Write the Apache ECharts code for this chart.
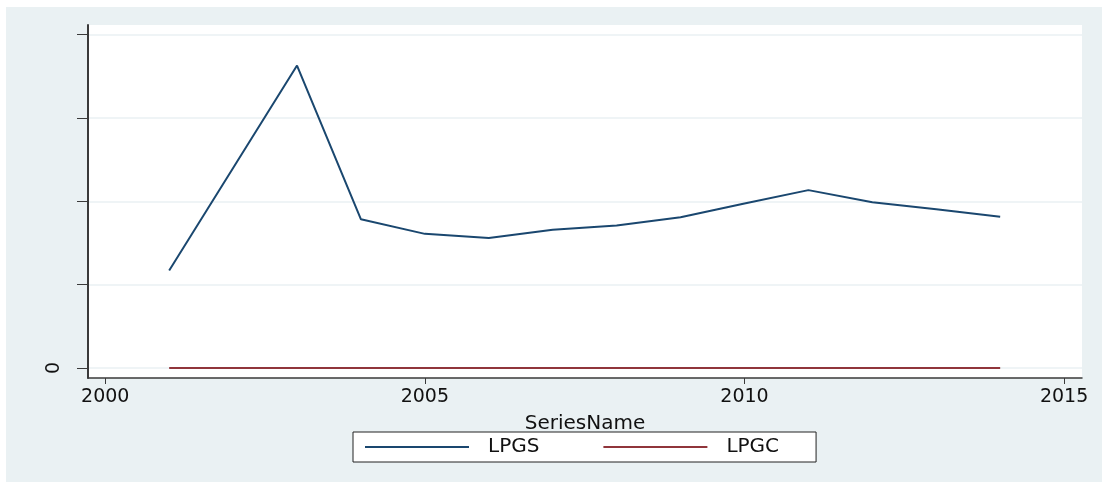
<!DOCTYPE html>
<html>
<head>
<meta charset="utf-8">
<script src="https://cdn.jsdelivr.net/npm/echarts@6/dist/echarts.min.js"></script>
<style>
  html, body { margin: 0; padding: 0; background: #fff; }
  #chart { position: absolute; left: 6px; top: 7px; width: 1096px; height: 475px; background: #eaf1f3; }
</style>
</head>
<body>
<div id="chart"></div>
<script>
// years on the x axis
const years = [2001, 2002, 2003, 2004, 2005, 2006, 2007, 2008, 2009, 2010, 2011, 2012, 2013, 2014];
// LPGS (2002 missing, line is joined over it)
const lpgs = [1.17, null, 3.63, 1.785, 1.61, 1.56, 1.66, 1.71, 1.81, 1.975, 2.135, 1.99, 1.905, 1.815];
// LPGC sits on zero
const lpgc = [0, 0, 0, 0, 0, 0, 0, 0, 0, 0, 0, 0, 0, 0];
const xTicks = [2000, 2005, 2010, 2015];
const yTicks = [0, 1, 2, 3, 4];

const pairs = (vals) => years.map((y, i) => [y, vals[i]]);

const chart = echarts.init(document.getElementById("chart"));

const axisCol = "#3a3a3a";
const font = "DejaVu Sans";

const option = {
  animation: false,
  grid: {
    left: 82,
    right: 20,
    top: 18,
    bottom: 104,
    show: true,
    backgroundColor: "#fff",
    borderWidth: 0,
  },
  xAxis: {
    type: "value",
    min: 1999.73,
    max: 2015.28,
    name: "SeriesName",
    nameLocation: "middle",
    nameGap: 36,
    nameTextStyle: { fontFamily: font, fontSize: 20, color: "#111" },
    axisLine: { show: true, onZero: false, lineStyle: { color: axisCol, width: 1.5 } },
    axisTick: { show: true, length: 6, customValues: xTicks, lineStyle: { color: axisCol } },
    axisLabel: {
      customValues: xTicks,
      margin: 10,
      fontFamily: font,
      fontSize: 19,
      color: "#111",
      formatter: (v) => String(v),
    },
    splitLine: { show: false },
  },
  yAxis: {
    type: "value",
    min: -0.12,
    max: 4.117,
    axisLine: { show: true, onZero: false, lineStyle: { color: axisCol, width: 2 } },
    axisTick: { show: true, length: 11, customValues: yTicks, lineStyle: { color: axisCol } },
    axisLabel: {
      customValues: yTicks,
      rotate: 90,
      margin: 24,
      fontFamily: font,
      fontSize: 19,
      color: "#111",
      formatter: (v) => (v === 0 ? "0" : ""),
    },
    splitLine: { show: true, lineStyle: { color: "#eaf1f3", width: 1.5 } },
  },
  legend: {
    left: 347,
    top: 425,
    orient: "horizontal",
    backgroundColor: "#fff",
    borderColor: "#222",
    borderWidth: 1,
    borderRadius: 0,
    padding: [5, 37, 5, 12],
    itemGap: 64,
    itemWidth: 104,
    itemHeight: 2,
    icon: "rect",
    textStyle: { fontFamily: font, fontSize: 20, color: "#111", padding: [0, 0, 0, 14] },
    data: ["LPGS", "LPGC"],
  },
  series: [
    {
      name: "LPGS",
      type: "line",
      data: pairs(lpgs),
      connectNulls: true,
      showSymbol: false,
      symbol: "none",
      lineStyle: { color: "#1a476f", width: 2 },
      itemStyle: { color: "#1a476f" },
    },
    {
      name: "LPGC",
      type: "line",
      data: pairs(lpgc),
      showSymbol: false,
      symbol: "none",
      lineStyle: { color: "#90353b", width: 2 },
      itemStyle: { color: "#90353b" },
    },
  ],
};

chart.setOption(option);
</script>
</body>
</html>
